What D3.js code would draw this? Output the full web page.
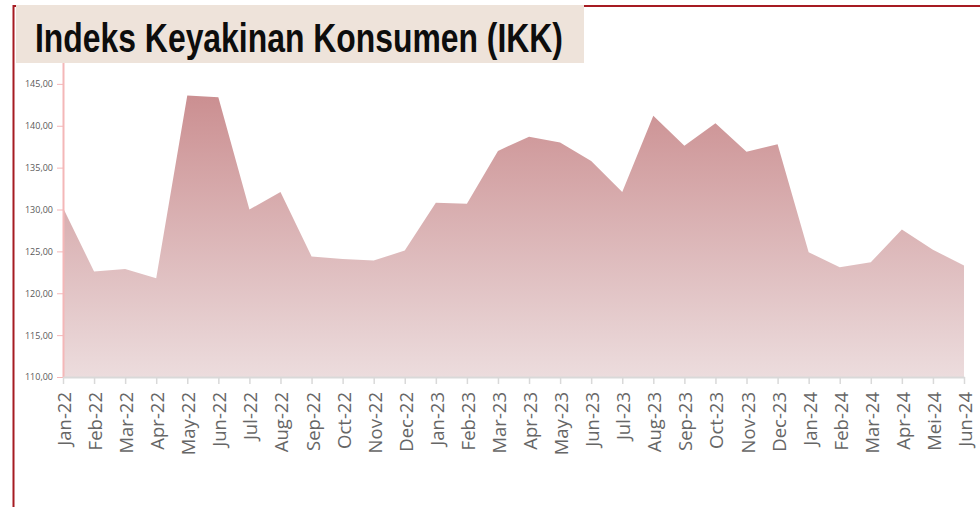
<!DOCTYPE html>
<html>
<head>
<meta charset="utf-8">
<script src="https://cdn.jsdelivr.net/npm/d3@7"></script>
<style>
  body { margin: 0; background: #fff; }
  svg { display: block; }
</style>
</head>
<body>
<svg id="chart" width="980" height="507"></svg>
<script>
// months on the x axis
const months = ['Jan-22','Feb-22','Mar-22','Apr-22','May-22','Jun-22','Jul-22','Aug-22','Sep-22','Oct-22','Nov-22','Dec-22',
  'Jan-23','Feb-23','Mar-23','Apr-23','May-23','Jun-23','Jul-23','Aug-23','Sep-23','Oct-23','Nov-23','Dec-23',
  'Jan-24','Feb-24','Mar-24','Apr-24','Mei-24','Jun-24'];

// IKK values
const ikk = [130.2, 122.6, 122.9, 121.8, 143.6, 143.4, 130.0, 132.1, 124.4, 124.1, 123.9, 125.1,
  130.8, 130.7, 137.0, 138.7, 138.0, 135.8, 132.1, 141.2, 137.6, 140.3, 136.9, 137.8,
  124.9, 123.1, 123.7, 127.6, 125.2, 123.3];

const yTicks = [110, 115, 120, 125, 130, 135, 140, 145];
const title = 'Indeks Keyakinan Konsumen (IKK)';

const svg = d3.select('#chart');
const fmt = v => d3.format('.2f')(v).replace('.', ',');

const x = d3.scalePoint().domain(months).range([63, 964]);
const y = d3.scaleLinear().domain([110, 150]).range([377, 42]);

// gradient for the area
const defs = svg.append('defs');
const grad = defs.append('linearGradient')
  .attr('id', 'areaGrad')
  .attr('x1', 0).attr('y1', 0).attr('x2', 0).attr('y2', 1);
grad.append('stop').attr('offset', '0%').attr('stop-color', '#cb8f91');
grad.append('stop').attr('offset', '100%').attr('stop-color', '#ecdcdd');

const area = d3.area()
  .x((d, i) => x(months[i]))
  .y0(y(110))
  .y1(d => y(d));

svg.append('path')
  .datum(ikk)
  .attr('fill', 'url(#areaGrad)')
  .attr('d', area);

// y axis
const yAxis = svg.append('g')
  .attr('transform', 'translate(63,0)')
  .call(d3.axisLeft(y).tickValues(yTicks).tickFormat(fmt).tickSize(6).tickSizeOuter(0));
yAxis.select('.domain').attr('stroke', '#f4b7b8').attr('stroke-width', 2);
yAxis.selectAll('.tick line').attr('stroke', '#f4b7b8');
yAxis.selectAll('.tick text')
  .attr('x', -10)
  .attr('fill', '#595959')
  .style('font-family', '"Open Sans", sans-serif')
  .style('font-size', '9px');

// x axis
const xAxis = svg.append('g')
  .attr('transform', 'translate(0,377)')
  .call(d3.axisBottom(x).tickSize(7).tickSizeOuter(0));
xAxis.select('.domain').attr('stroke', '#d9d9d9').attr('stroke-width', 2);
xAxis.selectAll('.tick line').attr('stroke', '#d9d9d9').attr('stroke-width', 1.5);
xAxis.selectAll('.tick text')
  .attr('transform', 'rotate(-90)')
  .attr('x', -15)
  .attr('y', 1)
  .attr('dy', '0.35em')
  .attr('text-anchor', 'end')
  .attr('fill', '#666')
  .style('font-family', '"Open Sans", sans-serif')
  .style('font-size', '18.5px');

// red frame lines
svg.append('line').attr('x1', 13.5).attr('x2', 13.5).attr('y1', 5).attr('y2', 507)
  .attr('stroke', '#a61b22').attr('stroke-width', 2);
svg.append('line').attr('x1', 13).attr('x2', 980).attr('y1', 6).attr('y2', 6)
  .attr('stroke', '#a61b22').attr('stroke-width', 2);

// title box
svg.append('rect')
  .attr('x', 16).attr('y', 5).attr('width', 568).attr('height', 58)
  .attr('fill', '#eee3da');
svg.append('text')
  .attr('x', 35).attr('y', 52)
  .attr('textLength', 528)
  .attr('lengthAdjust', 'spacingAndGlyphs')
  .style('font-family', '"Liberation Sans", Arial, sans-serif')
  .style('font-weight', 'bold')
  .style('font-size', '41px')
  .attr('fill', '#0d0d0d')
  .text(title);
</script>
</body>
</html>
